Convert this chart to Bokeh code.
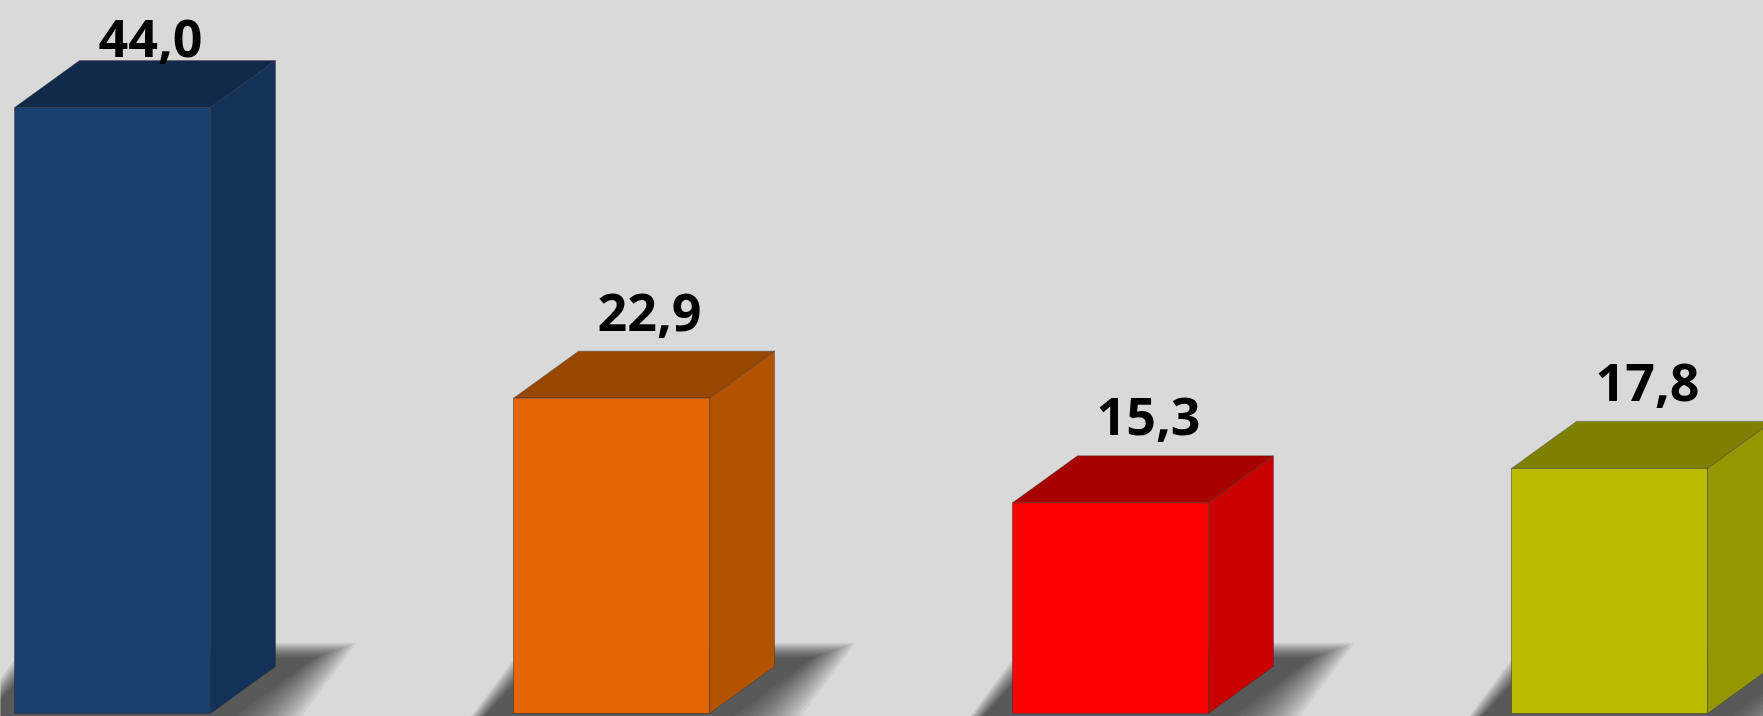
from bokeh.plotting import figure
from bokeh.models import Range1d, ColumnDataSource, GlobalInlineStyleSheet
from bokeh.core.properties import value
from bokeh.embed import file_html
from bokeh.resources import INLINE

# ---- data ----
categories = ["A", "B", "C", "D"]
values = [44.0, 22.9, 15.3, 17.8]
labels = ["44,0", "22,9", "15,3", "17,8"]
front_colors = ["#18416f", "#e36600", "#ff0000", "#bbbb00"]
top_colors = ["#122a4a", "#974700", "#a60000", "#7f7f00"]
side_colors = ["#13325a", "#b35300", "#c80000", "#969600"]

# ---- geometry (pixel scale helpers) ----
W, H = 1763, 716
PX_X = 499.0          # px per category
PX_Y = 13.77          # px per value unit
x_start = -112.0 / PX_X
x_end = x_start + W / PX_X
y_start = -3.0 / PX_Y
y_end = y_start + H / PX_Y

bw = 196.0 / PX_X     # front width
ddx = 65.0 / PX_X     # depth offset x
ddy = 47.0 / PX_Y     # depth offset y

p = figure(width=W, height=H, output_backend="svg", toolbar_location=None,
           x_range=Range1d(x_start, x_end), y_range=Range1d(y_start, y_end),
           min_border=0, outline_line_color=None,
           background_fill_color="#d9d9d9", border_fill_color="#d9d9d9")
p.axis.visible = False
p.grid.visible = False
p.stylesheets = [GlobalInlineStyleSheet(
    css="body{background:#d9d9d9;margin:0;overflow:hidden;}")]

xs_idx = list(range(len(values)))

# ---- shadows (blurred by stacked layers) ----
def sx(px):
    return px / PX_X

def sy(px):
    return px / PX_Y

for k in range(14, -1, -1):
    g = k * 3.0
    shx, shy = [], []
    for i in xs_idx:
        fl = i - bw / 2
        pts = [(-40 - g, -14 - g), (25 - 0.3 * g, 56 + 0.35 * g),
               (300 + g, 56 + 0.35 * g), (206 + g, -14 - g)]
        shx.append([fl + sx(a) for a, b in pts])
        shy.append([sy(b) for a, b in pts])
    p.patches(shx, shy, fill_color="black", fill_alpha=0.055, line_color=None)

# ---- bars ----
top_x, top_y, side_x, side_y = [], [], [], []
for i, v in zip(xs_idx, values):
    l, r = i - bw / 2, i + bw / 2
    top_x.append([l, r, r + ddx, l + ddx])
    top_y.append([v, v, v + ddy, v + ddy])
    side_x.append([r, r + ddx, r + ddx, r])
    side_y.append([0, ddy, v + ddy, v])

p.patches(side_x, side_y, fill_color=side_colors, line_color="#2a2a2a",
          line_alpha=0.35, line_width=1)
p.patches(top_x, top_y, fill_color=top_colors, line_color="#2a2a2a",
          line_alpha=0.35, line_width=1)
src = ColumnDataSource(dict(x=xs_idx, top=values, color=front_colors))
p.vbar(x="x", top="top", bottom=0, width=bw, fill_color="color", source=src,
       line_color="#2a2a2a", line_alpha=0.45, line_width=1)

# ---- labels ----
label_gap = 39.0 / PX_Y
label_cap = 675.0 / PX_Y
lab_src = ColumnDataSource(dict(
    x=[i + 38.0 / PX_X for i in xs_idx],
    y=[min(v + ddy + label_gap, label_cap) for v in values],
    t=labels))
p.text(x="x", y="y", text="t", source=lab_src, text_align="center",
       text_baseline="alphabetic", text_font=value("Open Sans"),
       text_font_style="bold", text_font_size="52px", text_color="black")

open("out.html", "w").write(file_html(p, INLINE))
